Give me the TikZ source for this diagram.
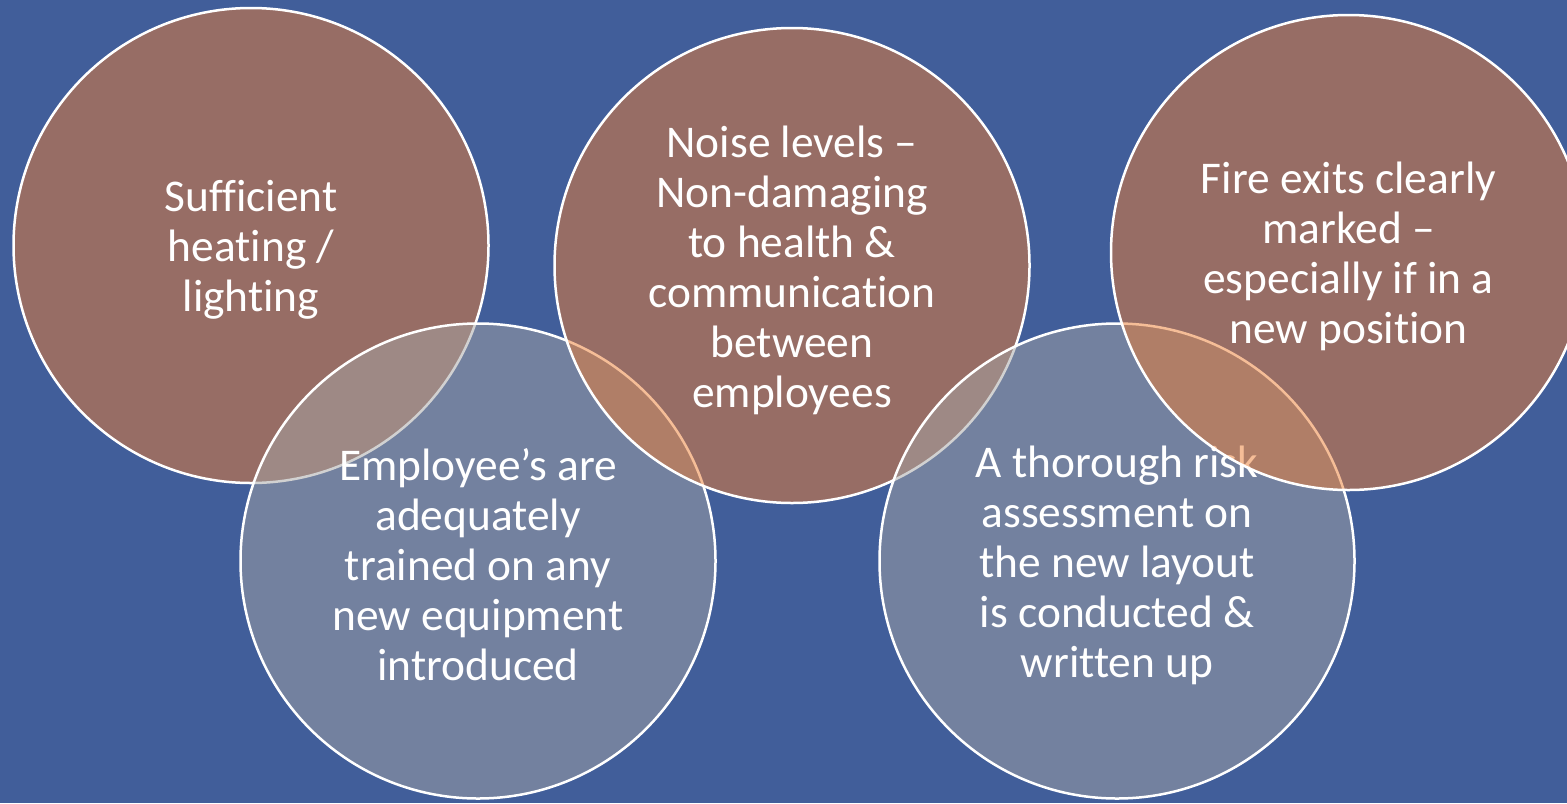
\documentclass[tikz,border=0pt]{standalone}
\usepackage{fontspec}
\setmainfont{Carlito}[RawFeature={-liga}]
\definecolor{bgblue}{RGB}{65,94,154}
\definecolor{accorange}{RGB}{237,125,49}
\definecolor{accgray}{RGB}{165,165,165}
\tikzset{
  venn/.style={circle, minimum size=237.5pt, inner sep=0pt, draw=white, line width=1.25pt,
    fill opacity=0.5, draw opacity=1},
  vorange/.style={venn, fill=accorange},
  vgray/.style={venn, fill=accgray},
  vtext/.style={text=white, align=center, inner sep=0pt,
    font=\fontsize{22.7}{25}\selectfont}
}
\begin{document}
\begin{tikzpicture}[x=0.5pt,y=-0.5pt]
\useasboundingbox (0,0) rectangle (1567,803);
\clip (0,0) rectangle (1567,803);
\fill[bgblue] (0,0) rectangle (1567,803);
\node[vorange] (c1) at (251,245.5) {};
\node[vtext] (t1) at ([yshift=-2pt]c1.center) {Sufficient\\heating /\\lighting};
\node[vgray] (c4) at (478,561) {};
\node[vtext] (t4) at ([yshift=-2pt]c4.center) {Employee’s are\\adequately\\trained on any\\new equipment\\introduced};
\node[vorange] (c2) at (792,265.5) {};
\node[vtext] (t2) at ([yshift=-2.2pt]c2.center) {Noise levels –\\Non-damaging\\to health \&\\communication\\between\\employees};
\node[vgray] (c5) at (1117,561) {};
\node[vtext] (t5) at ([yshift=-2pt]c5.center) {A thorough risk\\assessment on\\the new layout\\is conducted \&\\written up};
\node[vorange] (c3) at (1348.5,252.5) {};
\node[vtext] (t3) at ([yshift=-1.8pt]c3.center) {Fire exits clearly\\marked –\\especially if in a\\new position};
\end{tikzpicture}
\end{document}
